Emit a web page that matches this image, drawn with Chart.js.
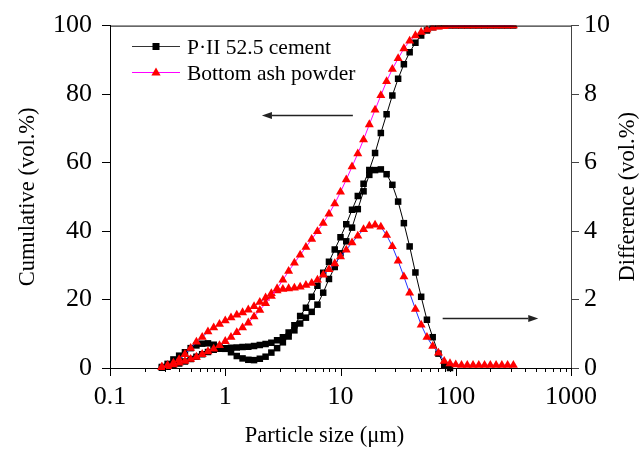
<!DOCTYPE html>
<html><head><meta charset="utf-8">
<script src="https://cdn.jsdelivr.net/npm/chart.js@4/dist/chart.umd.min.js"></script>
<style>html,body{margin:0;padding:0;background:#fff;}canvas{display:block;}</style>
</head><body>
<canvas id="c" width="641" height="456"></canvas>
<script>
// ---- data (particle size in µm) ----
const sizes = [0.282,0.316,0.355,0.398,0.447,0.501,0.562,0.631,0.708,0.794,0.891,1.0,1.122,1.259,1.413,1.585,1.778,1.995,2.239,2.512,2.818,3.162,3.548,3.981,4.467,5.012,5.623,6.310,7.079,7.943,8.913,10.0,11.22,12.59,14.13,15.85,17.78,19.95,22.39,25.12,28.18,31.62,35.48,39.81,44.67,50.12,56.23,63.10,70.79,79.43,89.13,100.0,112.2,125.9,141.3,158.5,177.8,199.5,223.9,251.2,281.8,316.2];
const cementCum = [0.1,0.4,0.8,1.3,1.9,2.6,3.3,4.0,4.7,5.3,5.6,5.8,5.9,6.0,6.1,6.2,6.4,6.7,7.0,7.4,8.1,9.0,10.4,12.5,15.2,17.6,20.8,24.0,27.8,31.0,34.6,38.2,42.0,46.2,50.2,53.8,57.8,62.8,68.6,74.1,79.6,84.5,88.7,92.2,95.0,97.1,98.6,99.5,99.9,100,100,100,100,100,100,100,100,100,100,100,100,100];
const cementDiff = [0.03,0.12,0.25,0.36,0.46,0.58,0.66,0.71,0.72,0.68,0.62,0.56,0.46,0.35,0.28,0.24,0.23,0.27,0.33,0.45,0.58,0.75,0.92,1.1,1.3,1.47,1.64,1.85,2.2,2.6,2.95,3.35,3.7,4.1,4.64,5.16,5.64,5.78,5.80,5.66,5.35,4.86,4.23,3.55,2.79,2.08,1.41,0.90,0.42,0.09,0,null,null,null,null,null,null,null,null,null,null,null];
const ashCum = [0.2,0.5,1.0,1.5,2.0,2.6,3.2,4.0,4.8,5.6,6.6,7.8,9.0,10.4,11.8,13.2,15.0,16.9,18.9,21.0,23.2,25.7,28.3,30.7,33.0,35.3,37.6,39.9,42.3,45.0,48.0,51.4,55.0,58.8,62.6,66.7,71.1,75.4,79.6,83.7,87.3,90.4,93.3,95.5,97.1,98.1,98.8,99.3,99.6,99.8,100,100,100,100,100,100,100,100,100,100,100,100];
const ashDiff = [0.03,0.08,0.15,0.25,0.4,0.58,0.76,0.9,1.06,1.18,1.28,1.38,1.47,1.55,1.62,1.70,1.80,1.92,2.05,2.18,2.26,2.3,2.32,2.34,2.37,2.42,2.48,2.57,2.72,2.88,3.05,3.25,3.45,3.66,3.86,4.05,4.15,4.18,4.12,3.88,3.55,3.13,2.67,2.19,1.72,1.26,0.90,0.64,0.44,0.2,0.13,0.1,0.08,0.08,0.08,0.08,0.08,0.08,0.08,0.08,0.08,0.08];
const xTickValues = [0.1,1,10,100,1000];
const xTickLabels = ['0.1','1','10','100','1000'];
const seriesNames = ['P·II 52.5 cement','Bottom ash powder'];
const xTitle = 'Particle size (μm)';
const yTitle = 'Cumulative (vol.%)';
const y1Title = 'Difference (vol.%)';
// arrow annotations in data units: [xFrom, xTo, yValue, axis]
const arrowNotes = [[12.8, 2.08, 74, 'y'], [77, 520, 1.47, 'y1']];

const FONT = "'Liberation Serif','Times New Roman',serif";
function pts(arr){ return sizes.map((s,i)=>({x:s, y:arr[i]})); }

const deco = {
  id:'deco',
  afterDraw(chart){
    const {ctx, chartArea:a, scales} = chart;
    const x = scales.x;
    ctx.save();
    ctx.strokeStyle = '#000'; ctx.fillStyle = '#000'; ctx.lineWidth = 1;
    // top frame line
    ctx.beginPath(); ctx.moveTo(a.left, a.top + 0.5); ctx.lineTo(a.right, a.top + 0.5); ctx.stroke();
    // x major/minor ticks
    for (let e = -1; e <= 2; e++) {
      for (let m = 1; m <= 9; m++) {
        const px = Math.round(x.getPixelForValue(m * Math.pow(10, e))) + 0.5;
        const len = m === 1 ? 8 : 4;
        ctx.beginPath(); ctx.moveTo(px, a.bottom); ctx.lineTo(px, a.bottom + len); ctx.stroke();
      }
    }
    const pe = Math.round(x.getPixelForValue(1000)) + 0.5;
    ctx.beginPath(); ctx.moveTo(pe, a.bottom); ctx.lineTo(pe, a.bottom + 8); ctx.stroke();
    // arrows
    arrowNotes.forEach(([x0, x1, yv, ax]) => {
      const sy = scales[ax];
      const X0 = x.getPixelForValue(x0), X1 = x.getPixelForValue(x1), Y = Math.round(sy.getPixelForValue(yv)) + 0.5;
      const dir = Math.sign(X1 - X0), hl = 10, hw = 3.5;
      ctx.strokeStyle = '#222'; ctx.fillStyle = '#222'; ctx.lineWidth = 1.3;
      ctx.beginPath(); ctx.moveTo(X0, Y); ctx.lineTo(X1 - dir * hl, Y); ctx.stroke();
      ctx.beginPath(); ctx.moveTo(X1, Y); ctx.lineTo(X1 - dir * hl, Y - hw); ctx.lineTo(X1 - dir * hl, Y + hw); ctx.closePath(); ctx.fill();
    });
    // legend
    const lx0 = 132, lx1 = 180, mx = 156;
    const rows = [{y:46.5, line:'#333', pt:'#000', shape:'rect', text:seriesNames[0]},
                  {y:72.5, line:'#ff00ff', pt:'#ff0000', shape:'tri', text:seriesNames[1]}];
    rows.forEach(r => {
      ctx.strokeStyle = r.line; ctx.lineWidth = 1.2;
      ctx.beginPath(); ctx.moveTo(lx0, r.y); ctx.lineTo(lx1, r.y); ctx.stroke();
      ctx.fillStyle = r.pt;
      if (r.shape === 'rect') { ctx.fillRect(mx - 3.5, r.y - 3.5, 7, 7); }
      else { ctx.beginPath(); ctx.moveTo(mx, r.y - 5); ctx.lineTo(mx + 4.6, r.y + 3); ctx.lineTo(mx - 4.6, r.y + 3); ctx.closePath(); ctx.fill(); }
      ctx.fillStyle = '#000'; ctx.font = '21.5px ' + FONT; ctx.textAlign = 'left'; ctx.textBaseline = 'alphabetic';
      ctx.fillText(r.text, 187, r.y + 7.8);
    });
    // axis titles
    ctx.fillStyle = '#000'; ctx.font = '22.5px ' + FONT; ctx.textAlign = 'center'; ctx.textBaseline = 'middle';
    ctx.fillText(xTitle, (a.left + a.right) / 2 - 16, 436);
    const cy = (a.top + a.bottom) / 2;
    ctx.save(); ctx.translate(28, cy); ctx.rotate(-Math.PI / 2); ctx.fillText(yTitle, 0, 0); ctx.restore();
    ctx.save(); ctx.translate(628, cy); ctx.rotate(-Math.PI / 2); ctx.fillText(y1Title, 0, 0); ctx.restore();
    ctx.restore();
  }
};

const cumClip = {left:12, right:12, top:0, bottom:12};
const blackStyle = {borderColor:'#000', backgroundColor:'#000', borderWidth:1, pointStyle:'rect', pointRadius:4.6, pointBorderWidth:0, pointBackgroundColor:'#000', clip:false, order:1};
const redBase = {borderWidth:1, pointStyle:'triangle', pointRadius:5.2, pointBorderWidth:0, pointBackgroundColor:'#ff0000', backgroundColor:'#ff0000', clip:false, order:0};

new Chart(document.getElementById('c'), {
  type:'line',
  data:{datasets:[
    Object.assign({}, blackStyle, {label:seriesNames[0]+' cumulative', data:pts(cementCum), yAxisID:'y', clip:cumClip}),
    Object.assign({}, blackStyle, {label:seriesNames[0]+' difference', data:pts(cementDiff), yAxisID:'y1'}),
    Object.assign({}, redBase, {label:seriesNames[1]+' cumulative', data:pts(ashCum), yAxisID:'y', borderColor:'#ff00ff', clip:cumClip}),
    Object.assign({}, redBase, {label:seriesNames[1]+' difference', data:pts(ashDiff), yAxisID:'y1', borderColor:'#2030ff'})
  ]},
  options:{
    responsive:false, animation:false, devicePixelRatio:1,
    layout:{padding:{top:20, left:0, right:0, bottom:0}},
    plugins:{legend:{display:false}, tooltip:{enabled:false}},
    elements:{line:{tension:0}},
    scales:{
      x:{type:'logarithmic', min:0.1, max:1000,
         afterFit(s){ s.height = 88; },
         grid:{display:false}, border:{display:true, color:'#000', width:1},
         ticks:{autoSkip:false, maxRotation:0, color:'#000', padding:6, font:{family:FONT, size:26},
           callback(v){ const i = xTickValues.findIndex(t => Math.abs(t - v) / t < 1e-6); return i >= 0 ? xTickLabels[i] : ''; }}
         },
      y:{type:'linear', position:'left', min:0, max:100,
         afterFit(s){ s.width = 110; },
         grid:{display:true, drawOnChartArea:false, drawTicks:true, tickLength:8, color:'#000', tickColor:'#000'},
         border:{display:true, color:'#000', width:1},
         ticks:{stepSize:20, color:'#000', padding:10, font:{family:FONT, size:26}}},
      y1:{type:'linear', position:'right', min:0, max:10,
         afterFit(s){ s.width = 70; },
         grid:{display:true, drawOnChartArea:false, drawTicks:true, tickLength:8, color:'#444', tickColor:'#444'},
         border:{display:true, color:'#444', width:1},
         ticks:{stepSize:2, color:'#000', padding:5, font:{family:FONT, size:26}}}
    }
  },
  plugins:[deco]
});
</script>
</body></html>
